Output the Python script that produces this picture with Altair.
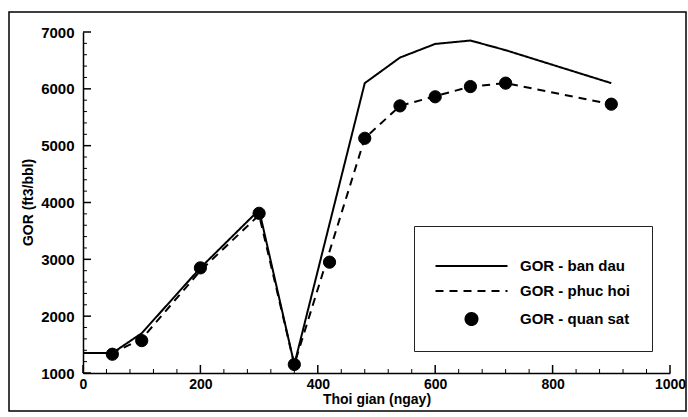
import altair as alt
import pandas as pd

# ---- data ----
series_names = ["GOR - ban dau", "GOR - phuc hoi", "GOR - quan sat"]

time_sim = [0, 50, 100, 200, 300, 360, 480, 540, 600, 660, 720, 900]
gor_ban_dau = [1350, 1350, 1700, 2850, 3870, 1150, 6100, 6550, 6790, 6850, 6680, 6100]
gor_phuc_hoi = [1350, 1350, 1600, 2800, 3780, 1150, 5130, 5700, 5870, 6040, 6100, 5730]

time_obs = [50, 100, 200, 300, 360, 420, 480, 540, 600, 660, 720, 900]
gor_quan_sat = [1330, 1570, 2850, 3810, 1150, 2950, 5130, 5700, 5860, 6040, 6100, 5730]

x_major = [0, 200, 400, 600, 800, 1000]
y_major = [1000, 2000, 3000, 4000, 5000, 6000, 7000]
x_minor = [v for v in range(0, 1001, 40) if v % 200 != 0]
y_minor = [v for v in range(1000, 7001, 200) if v % 1000 != 0]

FONT = "Liberation Sans"

lines_df = pd.DataFrame(
    {"time": time_sim + time_sim,
     "gor": gor_ban_dau + gor_phuc_hoi,
     "series": [series_names[0]] * len(time_sim) + [series_names[1]] * len(time_sim)}
)
obs_df = pd.DataFrame({"time": time_obs, "gor": gor_quan_sat,
                       "series": [series_names[2]] * len(time_obs)})

xscale = alt.Scale(domain=[0, 1000], nice=False, zero=False)
yscale = alt.Scale(domain=[1000, 7000], nice=False, zero=False)

x_axis = alt.Axis(values=x_major, title="Thoi gian (ngay)", ticks=False, tickSize=0,
                  format="d", labelPadding=4, labelFlush=False, grid=False,
                  labelFontSize=14, titleFontSize=14,
                  titleY=26, titleBaseline="middle")
y_axis = alt.Axis(values=y_major, title="GOR (ft3/bbl)", ticks=False, tickSize=0,
                  format="d", labelPadding=9, labelFlush=False, grid=False,
                  labelFontSize=15, titleFontSize=14,
                  titleX=-55, titleY=170, titleBaseline="middle", titleAlign="center",
                  titleAngle=270)


def X():
    return alt.X("time:Q", scale=xscale, axis=x_axis, title="Thoi gian (ngay)")


def Y():
    return alt.Y("gor:Q", scale=yscale, axis=y_axis, title="GOR (ft3/bbl)")


def make_legend():
    return alt.Legend(
        title=" ", titleFontSize=10, titlePadding=0.5,
        orient="none", legendX=331, legendY=194,
        padding=22, strokeColor="#222222", fillColor="white",
        symbolSize=144, symbolStrokeWidth=2,
        symbolStrokeColor="black", symbolOffset=28, labelOffset=41, rowPadding=9,
        labelFont=FONT, labelFontSize=15, labelFontWeight="bold", labelColor="black",
    )


def dom_scale(rng):
    return alt.Scale(domain=series_names, range=rng)


lines = alt.Chart(lines_df).mark_line(color="black", strokeWidth=2).encode(
    x=X(), y=Y(),
    strokeDash=alt.StrokeDash("series:N", scale=dom_scale([[1, 0], [8, 6], [1, 0]]),
                              legend=make_legend()),
    detail="series:N",
)

points = alt.Chart(obs_df).mark_point(filled=True, size=150, opacity=1, strokeWidth=1).encode(
    x=X(), y=Y(),
    shape=alt.Shape("series:N", scale=dom_scale(["M-6,0H6", "M-6,0H6", "circle"]),
                    legend=make_legend()),
    fill=alt.Fill("series:N", scale=dom_scale(["transparent", "transparent", "black"]),
                  legend=make_legend()),
    stroke=alt.Stroke("series:N", scale=dom_scale(["black", "black", "black"]),
                      legend=make_legend()),
)

# inward ticks
ymaj = alt.Chart(pd.DataFrame({"gor": y_major})).mark_rule(color="black", strokeWidth=1.5).encode(
    y=Y(), x=alt.value(0), x2=alt.value(8))
ymin = alt.Chart(pd.DataFrame({"gor": y_minor})).mark_rule(color="black", strokeWidth=1).encode(
    y=Y(), x=alt.value(0), x2=alt.value(4))
xmaj = alt.Chart(pd.DataFrame({"time": x_major})).mark_rule(color="black", strokeWidth=1.5).encode(
    x=X(), y=alt.value(341), y2=alt.value(333))
xmin = alt.Chart(pd.DataFrame({"time": x_minor})).mark_rule(color="black", strokeWidth=1).encode(
    x=X(), y=alt.value(341), y2=alt.value(337))

# outer frame of the figure
frame = alt.Chart(pd.DataFrame({"k": [0]})).mark_rect(
    fillOpacity=0, stroke="black", strokeWidth=1.5).encode(
    x=alt.value(-74), x2=alt.value(603), y=alt.value(-20), y2=alt.value(379))

chart = alt.layer(frame, ymin, ymaj, xmin, xmaj, lines, points).properties(
    width=587, height=341,
    autosize=alt.AutoSizeParams(type="none"),
    padding={"left": 83, "top": 32, "right": 18, "bottom": 44},
    background="white",
).configure_view(stroke=None).configure_axis(
    domainColor="black", domainWidth=1.5,
    labelFont=FONT, labelFontWeight="bold", labelColor="black",
    titleFont=FONT, titleFontWeight="bold", titleColor="black",
)

chart.save("out.html", embed_options={"renderer": "svg", "actions": False})
